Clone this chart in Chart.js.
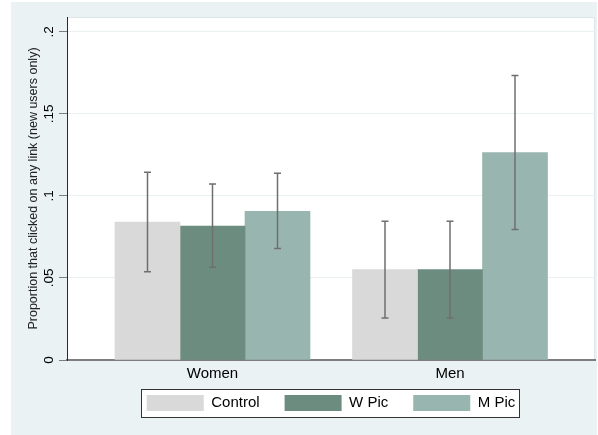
<!DOCTYPE html>
<html>
<head>
<meta charset="utf-8">
<script src="https://cdn.jsdelivr.net/npm/chart.js@4/dist/chart.umd.min.js"></script>
<style>
  html, body { margin: 0; padding: 0; background: #ffffff; }
  #wrap { width: 598px; height: 435px; position: relative; }
</style>
</head>
<body>
<div id="wrap"><canvas id="c" width="598" height="435"></canvas></div>
<script>
// ---- data ----
const groups = ['Women', 'Men'];
const groupPos = [1, 2];
const seriesNames = ['Control', 'W Pic', 'M Pic'];
const controlVals = [0.0841, 0.0551];
const wPicVals = [0.0817, 0.0551];
const mPicVals = [0.0907, 0.1264];
const controlLo = [0.0538, 0.0256];
const controlHi = [0.1144, 0.0846];
const wPicLo = [0.0565, 0.0256];
const wPicHi = [0.1073, 0.0846];
const mPicLo = [0.0679, 0.0795];
const mPicHi = [0.1138, 0.1734];
const yTickValues = [0, 0.05, 0.1, 0.15, 0.2];
const yTickLabels = ['0', '.05', '.1', '.15', '.2'];
const yTitle = 'Proportion that clicked on any link (new users only)';

const colors = ['#d9d9d9', '#6d8c80', '#98b6af'];
const seriesVals = [controlVals, wPicVals, mPicVals];
const seriesLo = [controlLo, wPicLo, mPicLo];
const seriesHi = [controlHi, wPicHi, mPicHi];

const FONT = "'Liberation Sans', Arial, sans-serif";

function legendRect(chart) {
  const hb = chart.legend && chart.legend.legendHitBoxes;
  if (!hb || !hb.length) return null;
  const left = Math.min(...hb.map(h => h.left)) - 6;
  const right = Math.max(...hb.map(h => h.left + h.width)) + 3;
  const top = hb[0].top - 6;
  const bottom = hb[0].top + hb[0].height + 6;
  return { left: Math.round(left), top: Math.round(top), w: Math.round(right - left), h: Math.round(bottom - top) };
}

const bgPlugin = {
  id: 'bg',
  afterLayout(chart) {
    // let the x labels draw below the (shortened) x-axis box
    chart.scales.x._computeLabelArea = function () { return undefined; };
  },
  beforeDraw(chart) {
    const ctx = chart.ctx, a = chart.chartArea;
    ctx.save();
    ctx.fillStyle = '#ffffff';
    ctx.fillRect(0, 0, chart.width, chart.height);
    ctx.fillStyle = '#eaf2f3';
    ctx.fillRect(11, 2, 586, 433);
    ctx.fillStyle = '#ffffff';
    ctx.fillRect(a.left, a.top, a.right - a.left, a.bottom - a.top);
    ctx.strokeStyle = '#dde6e8';
    ctx.lineWidth = 1;
    ctx.strokeRect(a.left + 0.5, a.top + 0.5, a.right - a.left - 1, a.bottom - a.top);
    const r = legendRect(chart);
    if (r) {
      ctx.fillStyle = '#ffffff';
      ctx.fillRect(r.left, r.top, r.w, r.h);
    }
    ctx.restore();
  },
  afterDraw(chart) {
    const r = legendRect(chart);
    if (!r) return;
    const ctx = chart.ctx;
    ctx.save();
    ctx.strokeStyle = '#333333';
    ctx.lineWidth = 1;
    ctx.strokeRect(r.left + 0.5, r.top + 0.5, r.w, r.h);
    ctx.restore();
  }
};

const errPlugin = {
  id: 'errbars',
  afterDatasetsDraw(chart) {
    const ctx = chart.ctx, ys = chart.scales.y;
    ctx.save();
    ctx.strokeStyle = '#6f6f6f';
    ctx.lineWidth = 1.5;
    chart.data.datasets.forEach((ds, i) => {
      const meta = chart.getDatasetMeta(i);
      meta.data.forEach((el, j) => {
        const x = el.x;
        const yh = ys.getPixelForValue(seriesHi[i][j]);
        const yl = ys.getPixelForValue(seriesLo[i][j]);
        ctx.beginPath();
        ctx.moveTo(x, yh); ctx.lineTo(x, yl);
        ctx.moveTo(x - 3.5, yh); ctx.lineTo(x + 3.5, yh);
        ctx.moveTo(x - 3.5, yl); ctx.lineTo(x + 3.5, yl);
        ctx.stroke();
      });
    });
    ctx.restore();
  }
};

new Chart(document.getElementById('c'), {
  type: 'bar',
  data: {
    datasets: seriesNames.map((name, i) => ({
      label: name,
      data: groupPos.map((x, j) => ({ x: x, y: seriesVals[i][j] })),
      backgroundColor: colors[i],
      borderWidth: 0,
      barThickness: 65
    }))
  },
  options: {
    responsive: false,
    animation: false,
    devicePixelRatio: 1,
    layout: { padding: { left: 11, right: 3, top: 17, bottom: 14 } },
    plugins: {
      tooltip: { enabled: false },
      legend: {
        position: 'bottom',
        fullSize: false,
        labels: {
          boxWidth: 57,
          boxHeight: 16,
          padding: 25,
          color: '#000000',
          font: { family: FONT, size: 15 }
        }
      }
    },
    scales: {
      x: {
        type: 'linear',
        offset: false,
        min: 0.3874,
        max: 2.6105,
        afterBuildTicks(s) { s.ticks = groupPos.map(v => ({ value: v })); },
        afterFit(s) { s.height = 10; },
        grid: { display: false, drawTicks: false, offset: false },
        border: { display: true, color: '#7d7d7d', width: 2 },
        ticks: {
          padding: 5,
          color: '#000000',
          font: { family: FONT, size: 15 },
          maxRotation: 0,
          autoSkip: false,
          callback(v) { const k = groupPos.indexOf(v); return k >= 0 ? groups[k] : ''; }
        }
      },
      y: {
        min: 0,
        max: 0.2091,
        afterBuildTicks(s) { s.ticks = yTickValues.map(v => ({ value: v })); },
        afterFit(s) { s.width = 56; },
        grid: { color: '#e8f0f1', lineWidth: 1, drawTicks: true, tickLength: 8, tickColor: '#7d7d7d' },
        border: { display: true, color: '#2a2a2a', width: 1 },
        ticks: {
          minRotation: 90,
          maxRotation: 90,
          crossAlign: 'center',
          padding: 0,
          autoSkip: false,
          color: '#000000',
          font: { family: FONT, size: 13.5 },
          callback(v) { const k = yTickValues.indexOf(v); return k >= 0 ? yTickLabels[k] : ''; }
        },
        title: {
          display: true,
          text: yTitle,
          color: '#222222',
          font: { family: FONT, size: 12.5 },
          padding: { top: 15, bottom: 0 }
        }
      }
    }
  },
  plugins: [bgPlugin, errPlugin]
});
</script>
</body>
</html>
